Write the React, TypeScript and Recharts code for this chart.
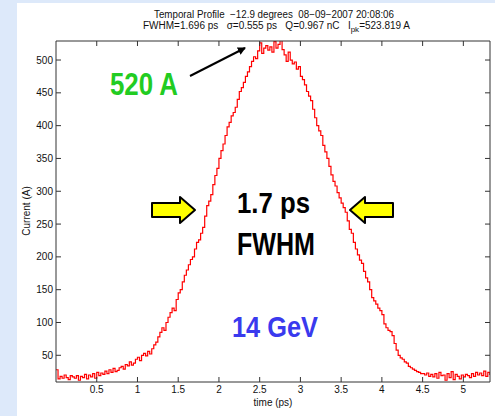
import { LineChart, Line, XAxis, YAxis } from 'recharts';

// sampling of the measured profile
const timeStart = 0; // ps
const timeStep = 0.025; // ps

// current (A), one value per sample
const current = [
  28, 14, 18, 15, 20, 16, 13, 19,
  17, 15, 19, 12, 18, 16, 21, 14,
  20, 17, 22, 15, 24, 19, 23, 21,
  26, 22, 28, 24, 30, 25, 27, 31,
  33, 29, 36, 34, 40, 35, 38, 44,
  47, 42, 50, 53, 49, 56, 52, 60,
  66, 70, 78, 85, 92, 88, 100, 108,
  115, 122, 118, 135, 145, 150, 162, 172,
  180, 188, 196, 200, 212, 222, 226, 236,
  245, 262, 278, 285, 295, 310, 324, 335,
  350, 362, 372, 385, 398, 405, 415, 420,
  428, 440, 452, 458, 466, 475, 482, 490,
  498, 505, 502, 514, 526, 510, 518, 522,
  515, 520, 512, 528, 518, 524, 530, 516,
  508, 498, 512, 500, 494, 497, 486, 490,
  475, 470, 462, 452, 445, 438, 425, 412,
  400, 392, 385, 370, 360, 350, 338, 325,
  315, 308, 298, 290, 282, 275, 268, 255,
  242, 236, 222, 212, 203, 195, 190, 178,
  168, 162, 150, 138, 133, 128, 122, 118,
  112, 98, 92, 88, 86, 80, 68, 58,
  50, 46, 44, 40, 38, 33, 31, 29,
  27, 25, 24, 22, 22, 20, 23, 18,
  21, 17, 22, 15, 24, 19, 20, 12,
  22, 16, 25, 13, 21, 18, 14, 20,
  17, 21, 19, 16, 22, 18, 24, 20,
  23, 19, 26, 18, 24, 20,
];

const xTicks = [0.5, 1, 1.5, 2, 2.5, 3, 3.5, 4, 4.5, 5];
const yTicks = [50, 100, 150, 200, 250, 300, 350, 400, 450, 500];

const sp = '\u00a0';
const titleLine1 = `Temporal Profile${sp} \u221212.9 degrees${sp} 08\u221209\u22122007 20:08:06`;
const titleLine2 = `FWHM=1.696 ps${sp}${sp} \u03c3=0.555 ps${sp}${sp} Q=0.967 nC${sp}${sp} I`;
const titleSub = 'pk';
const titleTail = '=523.819 A';

const peakNote = '520 A';
const widthNote = '1.7 ps';
const widthNote2 = 'FWHM';
const energyNote = '14 GeV';

const data = current.map((a, i) => ({ t: +(timeStart + i * timeStep).toFixed(3), a }));

const font = 'Liberation Sans, Arial, sans-serif';
const tickStyle = { fill: '#111', fontSize: 10, fontFamily: font };
const axisColor = '#333';
const blank = () => '';

const Overlay = () => (
  <svg width={495} height={416} style={{ position: 'absolute', left: 0, top: 0, pointerEvents: 'none' }}>
    <defs>
      <marker id="head" markerWidth="8" markerHeight="8" refX="7" refY="4" orient="auto" markerUnits="userSpaceOnUse">
        <path d="M0,0 L8,4 L0,8 Z" fill="#000" />
      </marker>
    </defs>
    <g fontFamily={font} fill="#111" fontSize={10} textAnchor="middle">
      <text x={274} y={18} textLength={240} lengthAdjust="spacingAndGlyphs">{titleLine1}</text>
      <text x={143} y={29} textAnchor="start">
        {titleLine2}
        <tspan dy={3} fontSize={8}>{titleSub}</tspan>
        <tspan dy={-3}>{titleTail}</tspan>
      </text>
      <text x={273} y={406}>time (ps)</text>
      <text transform="translate(30,211) rotate(-90)">Current (A)</text>
    </g>
    <line x1={190} y1={76} x2={245} y2={48} stroke="#000" strokeWidth={2} markerEnd="url(#head)" />
    <g fontFamily={font} fontWeight="bold">
      <text x={110} y={95} fontSize={31} fill="#22cc22" textLength={68} lengthAdjust="spacingAndGlyphs">{peakNote}</text>
      <text x={237} y={213} fontSize={29} fill="#000" textLength={73} lengthAdjust="spacingAndGlyphs">{widthNote}</text>
      <text x={237} y={255} fontSize={31} fill="#000" textLength={78} lengthAdjust="spacingAndGlyphs">{widthNote2}</text>
      <text x={232} y={337} fontSize={30} fill="#3a3aee" textLength={86} lengthAdjust="spacingAndGlyphs">{energyNote}</text>
    </g>
    <path d="M152,203 L180,203 L180,197 L195,210 L180,223 L180,217 L152,217 Z" fill="#ffff00" stroke="#000" strokeWidth={2} strokeLinejoin="round" />
    <path d="M393,203 L365,203 L365,197 L350,210 L365,223 L365,217 L393,217 Z" fill="#ffff00" stroke="#000" strokeWidth={2} strokeLinejoin="round" />
  </svg>
);

export default function App() {
  return (
    <div style={{ position: 'fixed', left: 0, top: 0, width: 495, height: 416, background: '#dde9fa' }}>
      <div style={{ position: 'absolute', left: 17, top: 3, right: 0, bottom: 0, background: '#fff' }} />
      <div style={{ position: 'absolute', left: 0, top: 0 }}>
        <LineChart width={495} height={416} data={data} margin={{ top: 40, right: 4, bottom: 4, left: 0 }}>
          <XAxis
            xAxisId="b"
            dataKey="t"
            type="number"
            domain={[0, 5.327]}
            ticks={xTicks}
            height={30}
            tickSize={-5}
            tickMargin={9}
            stroke={axisColor}
            tick={tickStyle}
            allowDataOverflow
          />
          <XAxis
            xAxisId="t"
            orientation="top"
            dataKey="t"
            type="number"
            domain={[0, 5.327]}
            ticks={xTicks}
            height={1}
            tickSize={-5}
            stroke={axisColor}
            tickFormatter={blank}
            allowDataOverflow
          />
          <YAxis
            yAxisId="l"
            type="number"
            domain={[9.3, 529]}
            ticks={yTicks}
            width={56}
            tickSize={-5}
            tickMargin={8}
            stroke={axisColor}
            tick={tickStyle}
            allowDataOverflow
          />
          <YAxis
            yAxisId="r"
            orientation="right"
            type="number"
            domain={[9.3, 529]}
            ticks={yTicks}
            width={1}
            tickSize={-5}
            stroke={axisColor}
            tickFormatter={blank}
            allowDataOverflow
          />
          <Line
            xAxisId="b"
            yAxisId="l"
            type="stepAfter"
            dataKey="a"
            stroke="#ff0000"
            strokeWidth={1.2}
            dot={false}
            isAnimationActive={false}
          />
        </LineChart>
      </div>
      <Overlay />
    </div>
  );
}
